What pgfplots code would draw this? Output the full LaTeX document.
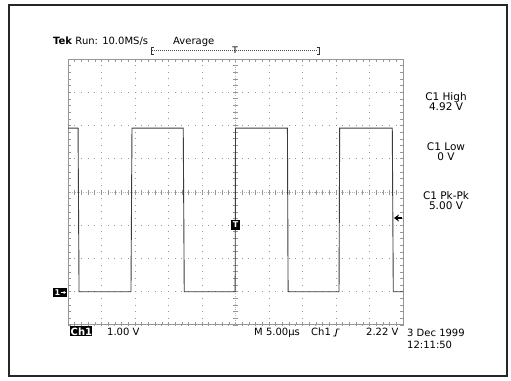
\documentclass[border=0pt]{standalone}
\usepackage{pgfplots}
\pgfplotsset{compat=1.18}
\usetikzlibrary{arrows.meta}
\usepackage{fontspec}
\setmainfont{DejaVu Sans}
\definecolor{grat}{RGB}{150,150,150}
\definecolor{trace}{RGB}{60,60,60}
\begin{document}
\fontsize{10}{12}\selectfont
\begin{tikzpicture}
\path[use as bounding box, fill=white] (0,0) rectangle (511pt,380pt);
\begin{axis}[at={(68pt,55pt)}, anchor=south west, scale only axis,
  width=335pt, height=266pt,
  xmin=0, xmax=50, ymin=-1, ymax=7,
  xtick={0,5,...,50}, ytick={-1,0,...,7},
  minor x tick num=4, minor y tick num=4,
  xticklabels={}, yticklabels={},
  tick align=inside, major tick length=3pt, minor tick length=3pt,
  tick style={grat, line width=0.6pt},
  axis line style={grat, line width=1pt},
  xmajorgrids, ymajorgrids,
  x grid style={grat, line width=0.9pt, dash pattern=on 0.9pt off 5.75pt, dash phase=0.45pt},
  y grid style={grat, line width=0.9pt, dash pattern=on 0.9pt off 5.8pt, dash phase=0.45pt},
  clip=false]
% centre lines
\draw[grat!70, line width=0.8pt, dash pattern=on 0.8pt off 1.4pt] (axis cs:0,3) -- (axis cs:50,3);
\draw[grat!70, line width=0.8pt, dash pattern=on 0.8pt off 1.4pt] (axis cs:25,-1) -- (axis cs:25,7);
\draw[grat, line width=5pt, dash pattern=on 0.8pt off 5.9pt, dash phase=0.4pt] (axis cs:0,3) -- (axis cs:50,3);
\draw[grat, line width=5pt, dash pattern=on 0.8pt off 5.85pt, dash phase=0.4pt] (axis cs:25,-1) -- (axis cs:25,7);
% trace
\addplot[trace, line width=0.9pt] coordinates {
(0,4.92) (1.5,4.92) (1.65,0) (9.4,0) (9.55,4.92)
(17.2,4.92) (17.35,0) (24.95,0) (25.0,4.92)
(32.75,4.92) (32.85,0) (40.45,0) (40.55,4.92)
(48.4,4.92) (48.55,0) (50,0)};
\end{axis}
\begin{scope}[shift={(0,380pt)}, x=1pt, y=-1pt]
% outer frame
\draw[black!85, line width=1.1pt] (9,5) rectangle (507,376);
% top text
\node[anchor=base west, inner sep=0] at (53,45) {\textbf{Tek} Run: 10.0MS/s};
\node[anchor=base west, inner sep=0] at (173,45) {Average};
% record bar
\draw[black!80, line width=0.8pt] (153.5,47) -- (151,47) -- (151,54) -- (153.5,54);
\draw[black!80, line width=0.8pt] (316.5,47) -- (319,47) -- (319,54) -- (316.5,54);
\draw[black!70, line width=0.6pt, dash pattern=on 1.2pt off 0.8pt] (152,50.5) -- (318,50.5);
\node[inner sep=0, font=\fontsize{9}{9}\selectfont] at (235,50.5) {T};
% right readouts
\begin{scope}[every node/.style={anchor=base, inner sep=0, align=center, font=\fontsize{10.5}{9.5}\selectfont}]
\node at (446,111) {C1 High\\4.92 V};
\node at (446,160.5) {C1 Low\\0 V};
\node at (446,209.5) {C1 Pk-Pk\\5.00 V};
\end{scope}
% ground marker
\fill[black] (53,288) rectangle (67,297);
\node[white, inner sep=0, font=\fontsize{8}{8}\selectfont\bfseries] at (57.5,292.5) {1};
\draw[white, line width=0.8pt, -{Stealth[length=2.5pt,width=3pt]}] (60.5,292.5) -- (66,292.5);
% trigger position marker
\fill[black] (231,220) rectangle (240,230);
\node[white, inner sep=0, font=\fontsize{8}{8}\selectfont\bfseries] at (235.5,225) {T};
% trigger level arrow
\draw[black, line width=1.2pt, -{Stealth[length=5pt,width=7pt]}] (402,218) -- (394,218);
% bottom readouts
\fill[black] (70,326) rectangle (92,336.5);
\node[white, anchor=base west, inner sep=0, font=\fontsize{10}{12}\selectfont\bfseries] at (70.5,335) {Ch1};
\node[anchor=base west, inner sep=0] at (107,336) {1.00 V};
\node[anchor=base west, inner sep=0] at (254,336) {M 5.00µs};
\node[anchor=base west, inner sep=0] at (311,336) {Ch1};
\draw[black, line width=0.9pt] (333,336) -- (335.5,336) -- (337,329) -- (339.5,329);
\node[anchor=base west, inner sep=0] at (366,336) {2.22 V};
\node[anchor=base west, inner sep=0] at (407,337) {3 Dec 1999};
\node[anchor=base west, inner sep=0] at (407,349) {12:11:50};
\end{scope}
\end{tikzpicture}
\end{document}
